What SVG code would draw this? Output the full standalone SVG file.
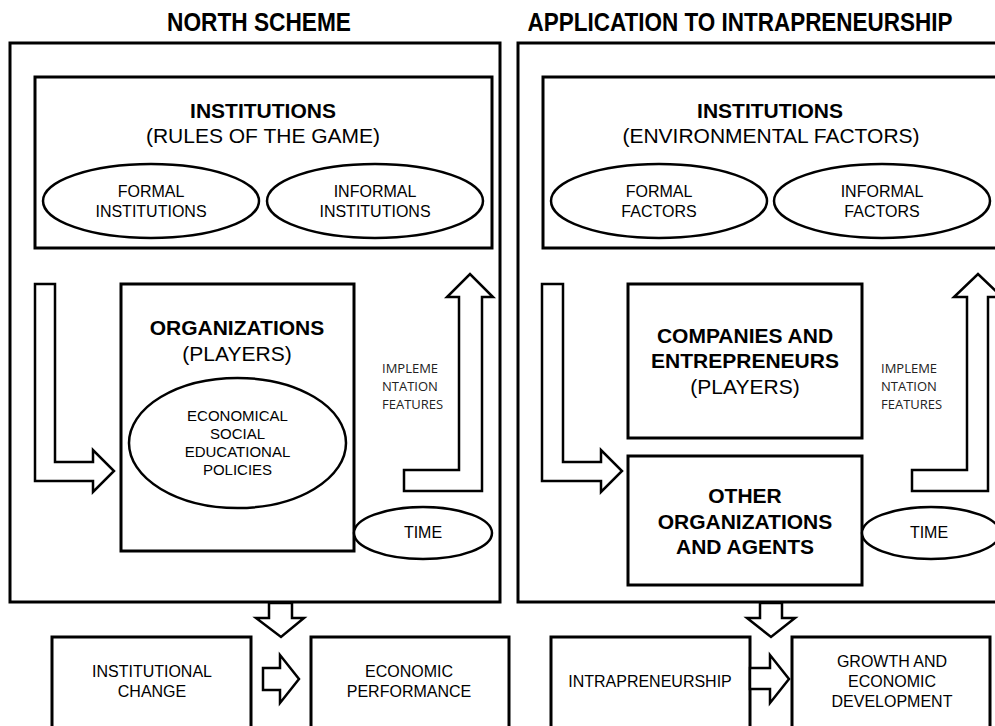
<svg xmlns="http://www.w3.org/2000/svg" width="995" height="726" viewBox="0 0 995 726">
<style>
.box{fill:#fff;stroke:#000;stroke-width:3}
.ell{fill:#fff;stroke:#000;stroke-width:2.5}
.arr{fill:#fff;stroke:#000;stroke-width:2.5;stroke-linejoin:miter}
.t{font-family:"Liberation Sans",Arial,sans-serif;text-anchor:middle;fill:#000}
.ttl{font-family:"Liberation Sans",Arial,sans-serif;font-weight:bold;font-size:25px;text-anchor:middle}
.b21{font-size:21px;font-weight:bold}
.r21{font-size:21px}
.s16{font-size:16px}
.s15{font-size:15px}
.imp{font-family:"Open Sans","Liberation Sans",sans-serif;font-size:13px;fill:#222}
</style>
<rect width="995" height="726" fill="#fff"/>
<g id="titles">
<text class="ttl" x="259" y="31" textLength="184" lengthAdjust="spacingAndGlyphs">NORTH SCHEME</text>
<text class="ttl" x="740" y="31" textLength="425" lengthAdjust="spacingAndGlyphs">APPLICATION TO INTRAPRENEURSHIP</text>
</g>
<g id="panel-left"><rect class="box" x="10" y="43" width="490" height="559"/></g>
<g id="panel-right"><rect class="box" x="518" y="43" width="500" height="559"/></g>
<g id="inst-left">
<rect class="box" x="35" y="77" width="457" height="171"/>
<text class="t b21" x="263" y="118">INSTITUTIONS</text>
<text class="t r21" x="263" y="143">(RULES OF THE GAME)</text>
</g>
<g id="formal-inst"><ellipse class="ell" cx="151" cy="201" rx="108" ry="37"/>
<text class="t s16" x="151" y="197">FORMAL</text><text class="t s16" x="151" y="217">INSTITUTIONS</text></g>
<g id="informal-inst"><ellipse class="ell" cx="375" cy="201" rx="108" ry="37"/>
<text class="t s16" x="375" y="197">INFORMAL</text><text class="t s16" x="375" y="217">INSTITUTIONS</text></g>
<g id="organizations">
<rect class="box" x="121" y="284" width="233" height="267"/>
<text class="t b21" x="237" y="335">ORGANIZATIONS</text>
<text class="t r21" x="237" y="361">(PLAYERS)</text>
</g>
<g id="policies"><ellipse class="ell" cx="237.5" cy="443" rx="108.5" ry="65"/>
<text class="t s15" x="237.5" y="421">ECONOMICAL</text>
<text class="t s15" x="237.5" y="439">SOCIAL</text>
<text class="t s15" x="237.5" y="457">EDUCATIONAL</text>
<text class="t s15" x="237.5" y="475">POLICIES</text></g>
<g id="impl-left"><text class="imp" x="382" y="373">IMPLEME</text><text class="imp" x="382" y="391">NTATION</text><text class="imp" x="382" y="409">FEATURES</text></g>
<g id="time-left"><ellipse class="ell" cx="423" cy="533" rx="69" ry="26"/><text class="t s16" x="423" y="538">TIME</text></g>
<g id="inst-right">
<rect class="box" x="543" y="77" width="470" height="171"/>
<text class="t b21" x="770" y="118">INSTITUTIONS</text>
<text class="t r21" x="771" y="143">(ENVIRONMENTAL FACTORS)</text>
</g>
<g id="formal-factors"><ellipse class="ell" cx="659" cy="201" rx="108" ry="37"/>
<text class="t s16" x="659" y="197">FORMAL</text><text class="t s16" x="659" y="217">FACTORS</text></g>
<g id="informal-factors"><ellipse class="ell" cx="882" cy="201" rx="108" ry="37"/>
<text class="t s16" x="882" y="197">INFORMAL</text><text class="t s16" x="882" y="217">FACTORS</text></g>
<g id="companies">
<rect class="box" x="628" y="284" width="234" height="154"/>
<text class="t b21" x="745" y="343">COMPANIES AND</text>
<text class="t b21" x="745" y="368">ENTREPRENEURS</text>
<text class="t r21" x="745" y="394">(PLAYERS)</text>
</g>
<g id="other-orgs">
<rect class="box" x="628" y="456" width="234" height="129"/>
<text class="t b21" x="745" y="503">OTHER</text>
<text class="t b21" x="745" y="529">ORGANIZATIONS</text>
<text class="t b21" x="745" y="554">AND AGENTS</text>
</g>
<g id="impl-right"><text class="imp" x="881" y="373">IMPLEME</text><text class="imp" x="881" y="391">NTATION</text><text class="imp" x="881" y="409">FEATURES</text></g>
<g id="time-right"><ellipse class="ell" cx="931" cy="533" rx="69" ry="26"/><text class="t s16" x="929" y="538">TIME</text></g>
<g id="inst-change"><rect class="box" x="52" y="637" width="199" height="100"/>
<text class="t s16" x="152" y="677">INSTITUTIONAL</text><text class="t s16" x="152" y="697">CHANGE</text></g>
<g id="econ-perf"><rect class="box" x="311" y="637" width="198" height="100"/>
<text class="t s16" x="409" y="677">ECONOMIC</text><text class="t s16" x="409" y="697">PERFORMANCE</text></g>
<g id="intrapreneurship"><rect class="box" x="551" y="637" width="199" height="100"/>
<text class="t s16" x="650" y="687">INTRAPRENEURSHIP</text></g>
<g id="growth"><rect class="box" x="792" y="637" width="198" height="100"/>
<text class="t s16" x="892" y="667">GROWTH AND</text><text class="t s16" x="892" y="687">ECONOMIC</text><text class="t s16" x="892" y="707">DEVELOPMENT</text></g>
<g id="connectors">
<path class="arr" d="M35,284 L55,284 L55,462 L93,462 L93,450 L114,471 L93,492 L93,481 L35,481 Z"/>
<path class="arr" d="M404,491 L482,491 L482,297 L493,297 L470,274 L447,297 L459,297 L459,470 L404,470 Z"/>
<path class="arr" d="M269,603 L292,603 L292,618 L304,618 L281,637 L256,618 L269,618 Z"/>
<path class="arr" d="M263,668 L280,668 L280,655 L299,679 L280,703 L280,690 L263,690 Z"/>
<path class="arr" d="M542,284 L563,284 L563,462 L601,462 L601,450 L622,471 L601,492 L601,481 L542,481 Z"/>
<path class="arr" d="M912,491 L988,491 L988,297 L1002,297 L978,274 L954,297 L967,297 L967,470 L912,470 Z"/>
<path class="arr" d="M760,603 L782,603 L782,618 L795,618 L771,637 L747,618 L760,618 Z"/>
<path class="arr" d="M750,668 L770,668 L770,655 L789,679 L770,703 L770,689 L750,689 Z"/>
</g>
</svg>
